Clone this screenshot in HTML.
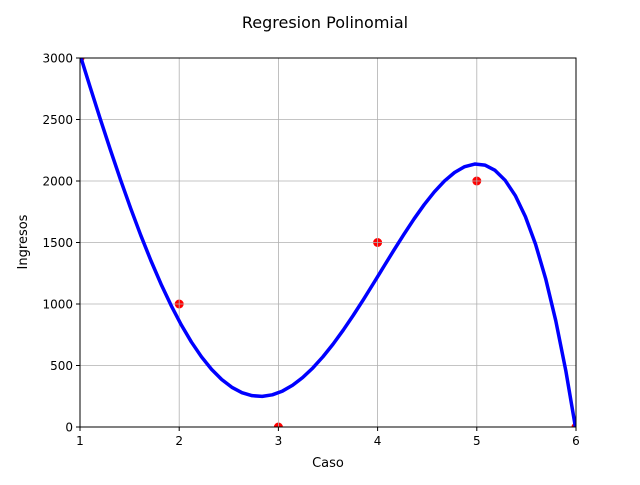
<!DOCTYPE html>
<html><head><meta charset="utf-8"><style>
html,body{margin:0;padding:0;background:#fff;}
svg text{font-family:"DejaVu Sans","Liberation Sans",sans-serif;}
</style></head><body>
<svg id="chart" width="640" height="480" viewBox="0 0 640 480">
<rect width="640" height="480" fill="#fff"/>
<text x="325" y="28" text-anchor="middle" font-size="16">Regresion Polinomial</text>
<g id="plot"></g>
<text x="328" y="467" text-anchor="middle" font-size="13">Caso</text>
<text transform="translate(27,242) rotate(-90)" text-anchor="middle" font-size="13">Ingresos</text>
</svg>
<script>
const caseValues = [1, 2, 3, 4, 5, 6];
const incomeValues = [3000, 1000, 0, 1500, 2000, 0];
const xTicks = [1, 2, 3, 4, 5, 6];
const yTicks = [0, 500, 1000, 1500, 2000, 2500, 3000];
const polyDegree = 4;

const L=80,R=576,T=58,B=427;
const xS=v=>L+(v-1)/(6-1)*(R-L);
const yS=v=>B-(v-0)/(3000-0)*(B-T);
const NS="http://www.w3.org/2000/svg";
const plot=document.getElementById('plot');
function mk(tag,attrs,parent){const e=document.createElementNS(NS,tag);for(const k in attrs)e.setAttribute(k,attrs[k]);(parent||plot).appendChild(e);return e;}

// least squares polynomial fit
function fit(xs,ys,deg){
  const n=deg+1;const A=[];for(let i=0;i<n;i++){A.push(new Array(n+1).fill(0));}
  for(let k=0;k<xs.length;k++){for(let i=0;i<n;i++){for(let j=0;j<n;j++)A[i][j]+=Math.pow(xs[k],i+j);A[i][n]+=ys[k]*Math.pow(xs[k],i);}}
  for(let i=0;i<n;i++){let p=i;for(let r=i+1;r<n;r++)if(Math.abs(A[r][i])>Math.abs(A[p][i]))p=r;[A[i],A[p]]=[A[p],A[i]];
    for(let r=0;r<n;r++){if(r===i)continue;const f=A[r][i]/A[i][i];for(let c=i;c<=n;c++)A[r][c]-=f*A[i][c];}}
  return A.map((row,i)=>row[n]/row[i]);
}
const coef=fit(caseValues,incomeValues,polyDegree);
const poly=x=>coef.reduce((s,c,i)=>s+c*Math.pow(x,i),0);

// clip
const defs=mk('defs',{});const cp=mk('clipPath',{id:'clip'},defs);mk('rect',{x:L,y:T,width:R-L,height:B-T},cp);

// scatter
caseValues.forEach((c,i)=>{
  const p=mk('circle',{cx:xS(c),cy:yS(incomeValues[i]),r:4.5,fill:'#ff0000','clip-path':'url(#clip)'});
  
  
});
// grid
xTicks.forEach(t=>{const g=mk('line',{x1:xS(t),x2:xS(t),y1:T,y2:B,stroke:'#b0b0b0','stroke-width':0.8});
  });
yTicks.forEach(t=>{const g=mk('line',{x1:L,x2:R,y1:yS(t),y2:yS(t),stroke:'#b0b0b0','stroke-width':0.8});
  });
// curve
let d='';const N=50;
for(let i=0;i<N;i++){const x=1+(6-1)*i/(N-1);d+=(i?'L':'M')+xS(x).toFixed(2)+','+yS(poly(x)).toFixed(2);}
const curve=mk('path',{d:d,fill:'none',stroke:'#0000ff','stroke-width':3.5,'stroke-linejoin':'round','clip-path':'url(#clip)'});


// frame
const fr=mk('rect',{x:L,y:T,width:R-L,height:B-T,fill:'none',stroke:'#000','stroke-width':1});

// ticks
xTicks.forEach(t=>{mk('line',{x1:xS(t),x2:xS(t),y1:B,y2:B+4,stroke:'#000'});
  const tx=mk('text',{x:xS(t),y:B+18,'text-anchor':'middle','font-size':12});tx.textContent=t;
  });
yTicks.forEach(t=>{mk('line',{x1:L-4,x2:L,y1:yS(t),y2:yS(t),stroke:'#000'});
  const tx=mk('text',{x:L-7,y:yS(t)+4.5,'text-anchor':'end','font-size':12});tx.textContent=t;
  });
</script>
</body></html>
